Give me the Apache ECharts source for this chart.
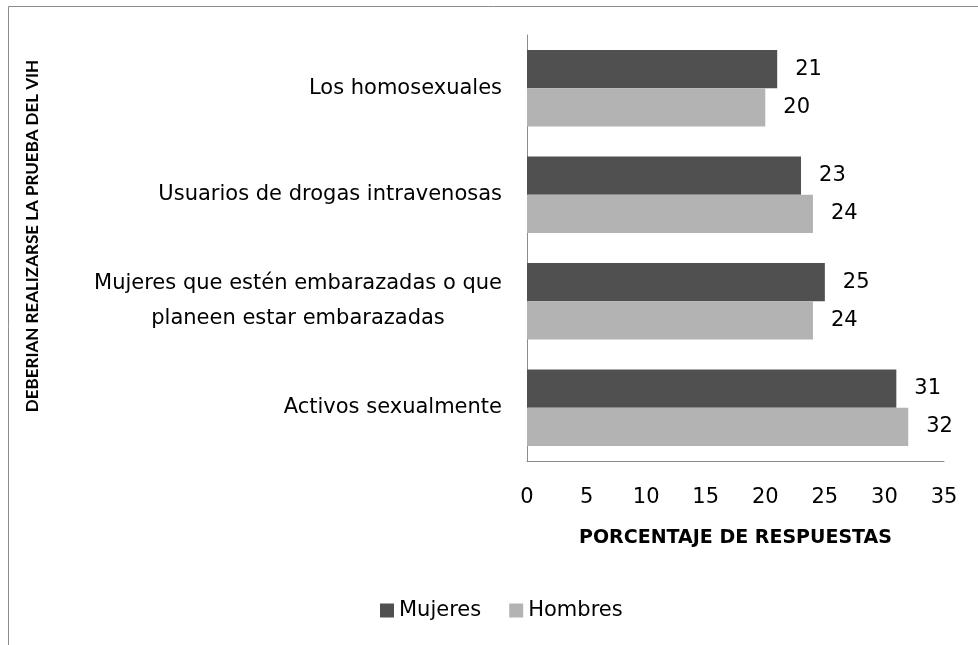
<!DOCTYPE html>
<html>
<head>
<meta charset="utf-8">
<script src="https://cdn.jsdelivr.net/npm/echarts@6/dist/echarts.min.js"></script>
<style>
  html, body { margin: 0; padding: 0; background: #fff; }
  #main { width: 978px; height: 645px; }
</style>
</head>
<body>
<div id="main"></div>
<script>
var categories = [
    'Activos sexualmente',
    'Mujeres que estén embarazadas o que\nplaneen estar embarazadas',
    'Usuarios de drogas intravenosas',
    'Los homosexuales'
];
var mujeres = [31, 25, 23, 21];
var hombres = [32, 24, 24, 20];
var xTicks = [0, 35, 5];  // min, max, interval

var font = '"DejaVu Sans", sans-serif';
var myChart = echarts.init(document.getElementById('main'));

var option = {
    textStyle: { fontFamily: font },
    animation: false,
    graphic: [{
        type: 'rect',
        shape: { x: 8.5, y: 6.5, width: 1000, height: 700 },
        style: { fill: 'none', stroke: '#8c8c8c', lineWidth: 1 }
    }, {
        // titulo del eje vertical
        type: 'text',
        x: 33,
        y: 236,
        rotation: Math.PI / 2,
        style: {
            text: 'DEBERIAN REALIZARSE LA PRUEBA DEL VIH',
            fontSize: 17,
            fontWeight: 'bold',
            fontFamily: 'Lato, sans-serif',
            fill: '#000',
            align: 'center',
            verticalAlign: 'middle'
        }
    }],
    legend: {
        bottom: 19,
        left: 375,
        itemWidth: 14,
        itemHeight: 14,
        itemGap: 28,
        icon: 'rect',
        textStyle: { fontSize: 21, color: '#000', fontFamily: font },
        data: ['Mujeres', 'Hombres']
    },
    grid: { left: 527, right: 34, top: 35, bottom: 184, containLabel: false },
    xAxis: {
        type: 'value',
        min: xTicks[0],
        max: xTicks[1],
        interval: xTicks[2],
        name: 'PORCENTAJE DE RESPUESTAS',
        nameLocation: 'middle',
        nameGap: 68,
        nameTextStyle: { fontSize: 19, fontWeight: 'bold', color: '#000', fontFamily: font },
        axisLine: { show: true, lineStyle: { color: '#8c8c8c' } },
        axisTick: { show: false },
        splitLine: { show: false },
        axisLabel: { fontSize: 21, color: '#000', margin: 26, fontFamily: font }
    },
    yAxis: {
        type: 'category',
        data: categories,
        axisLine: { show: true, lineStyle: { color: '#8c8c8c' } },
        axisTick: { show: false },
        axisLabel: {
            fontSize: 21,
            color: '#000',
            margin: 25,
            lineHeight: 35,
            fontFamily: font,
            formatter: function (v) {
                return v.split('\n').map(function (s) { return '{c|' + s + '}'; }).join('\n');
            },
            rich: { c: { align: 'center', fontSize: 21, lineHeight: 35, color: '#000', fontFamily: font } }
        }
    },
    series: [{
        name: 'Mujeres',
        type: 'bar',
        data: mujeres,
        barCategoryGap: '28%',
        barGap: '0%',
        itemStyle: { color: '#505050' },
        label: { show: true, position: 'right', distance: 18, fontSize: 21, color: '#000', fontFamily: font }
    }, {
        name: 'Hombres',
        type: 'bar',
        data: hombres,
        barCategoryGap: '28%',
        barGap: '0%',
        itemStyle: { color: '#b3b3b3' },
        label: { show: true, position: 'right', distance: 18, fontSize: 21, color: '#000', fontFamily: font }
    }]
};
myChart.setOption(option);
</script>
</body>
</html>
